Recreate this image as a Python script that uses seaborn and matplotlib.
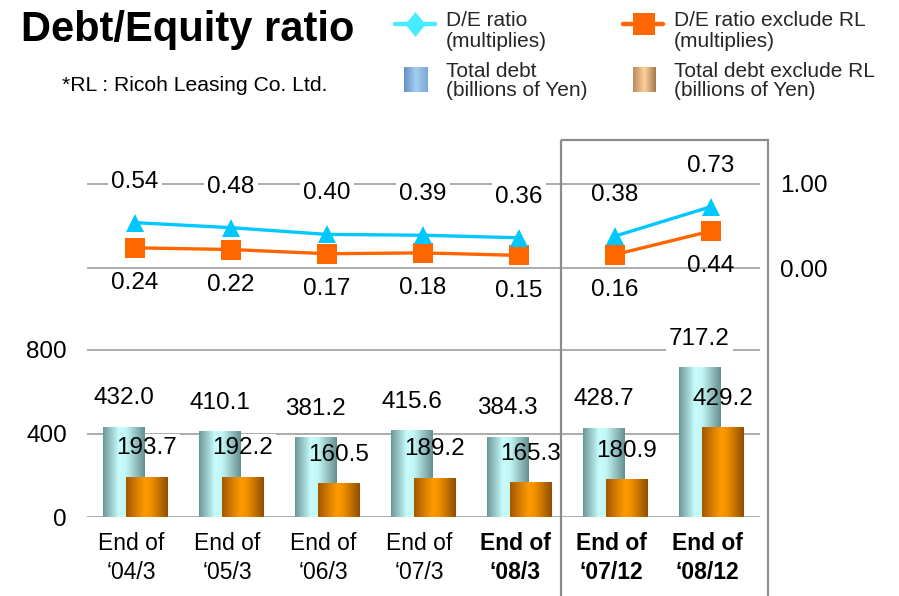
import numpy as np
import pandas as pd
import matplotlib
matplotlib.use("Agg")
import matplotlib.pyplot as plt
import seaborn as sns
from matplotlib.colors import LinearSegmentedColormap
from matplotlib.patches import Rectangle
from matplotlib.lines import Line2D

# ---------------- data ----------------
categories = ["End of\n\u201804/3", "End of\n\u201805/3", "End of\n\u201806/3",
              "End of\n\u201807/3", "End of\n\u201808/3", "End of\n\u201807/12",
              "End of\n\u201808/12"]
bold_labels = [False, False, False, False, True, True, True]
de_ratio = [0.54, 0.48, 0.40, 0.39, 0.36, 0.38, 0.73]
de_ratio_ex_rl = [0.24, 0.22, 0.17, 0.18, 0.15, 0.16, 0.44]
total_debt = [432.0, 410.1, 381.2, 415.6, 384.3, 428.7, 717.2]
total_debt_ex_rl = [193.7, 192.2, 160.5, 189.2, 165.3, 180.9, 429.2]
line_segment = [0, 0, 0, 0, 0, 1, 1]
bar_ticks = [0, 400, 800]
ratio_ticks = [0.0, 1.0]

# ---------------- style ----------------
sns.set_theme(style="white")
plt.rcParams["font.family"] = ["Liberation Sans", "DejaVu Sans"]

W, H = 899, 596
fig = plt.figure(figsize=(W / 100, H / 100), dpi=100)


def px_axes(l, t, r, b, **kw):
    return fig.add_axes([l / W, 1 - b / H, (r - l) / W, (b - t) / H], **kw)


ax_top = px_axes(87, 140, 760, 300)
ax_bot = px_axes(87, 330, 760, 517)

CYAN = "#00C8FF"
ORANGE = "#FF6600"
GRID = "#a6a6a6"
cmap_cyan = LinearSegmentedColormap.from_list(
    "cy", [(0, "#6a9696"), (0.38, "#c8fcfc"), (0.55, "#c4f6f6"), (1, "#668f8f")])
cmap_orange = LinearSegmentedColormap.from_list(
    "or", [(0, "#a05800"), (0.45, "#ff9a00"), (0.58, "#f69200"), (1, "#8e4e00")])
cmap_leg_blue = LinearSegmentedColormap.from_list(
    "lb", [(0, "#6690c4"), (0.5, "#a6cdf2"), (1, "#7aa6d6")])
cmap_leg_tan = LinearSegmentedColormap.from_list(
    "lt", [(0, "#b88a5c"), (0.5, "#ffd09a"), (1, "#a27a50")])

idx = np.arange(len(categories))
bar_df = pd.DataFrame({"idx": idx, "debt": total_debt, "debt_ex": total_debt_ex_rl})
line_df = pd.DataFrame({"idx": idx, "de": de_ratio, "de_ex": de_ratio_ex_rl,
                        "seg": line_segment})

OFF = 0.12
BW = 0.43

# ---------------- bars ----------------
sns.barplot(x=bar_df["idx"] - OFF, y=bar_df["debt"], native_scale=True, width=BW,
            errorbar=None, color="#aadddd", ax=ax_bot)
cyan_patches = list(ax_bot.patches)
sns.barplot(x=bar_df["idx"] + OFF, y=bar_df["debt_ex"], native_scale=True, width=BW,
            errorbar=None, color="#ff9900", ax=ax_bot)
orange_patches = [p for p in ax_bot.patches if p not in cyan_patches]

grad = np.linspace(0, 1, 256).reshape(1, -1)


def grad_fill(ax, patch, cmap, z):
    x0, y0 = patch.get_x(), patch.get_y()
    w, h = patch.get_width(), patch.get_height()
    im = ax.imshow(grad, cmap=cmap, extent=[x0, x0 + w, y0, y0 + h], aspect="auto",
                   origin="lower", zorder=z, interpolation="bilinear")
    im.set_clip_path(patch)
    patch.set_facecolor("none")
    patch.set_edgecolor("none")


for p in cyan_patches:
    grad_fill(ax_bot, p, cmap_cyan, 2.0)
for p in orange_patches:
    grad_fill(ax_bot, p, cmap_orange, 2.1)

LABEL_FS = 17.5


def masked_label(ax, x, y, s, dy, mask=True):
    if mask:
        ax.annotate(s, (x, y), xytext=(0, dy), textcoords="offset points",
                    ha="center", va="center", fontsize=LABEL_FS, color="white",
                    zorder=1.5,
                    bbox=dict(boxstyle="square,pad=0.12", fc="white", ec="none"))
    ax.annotate(s, (x, y), xytext=(0, dy), textcoords="offset points",
                ha="center", va="center", fontsize=LABEL_FS, color="black", zorder=6)


for i, v in zip(idx, total_debt):
    masked_label(ax_bot, i - OFF, v, f"{v:.1f}", 20.5)
for i, v in zip(idx, total_debt_ex_rl):
    masked_label(ax_bot, i + OFF, v, f"{v:.1f}", 20.5)

# ---------------- lines ----------------
sns.lineplot(data=line_df, x="idx", y="de_ex", units="seg", estimator=None,
             color=ORANGE, lw=2.4, marker="s", markersize=15, mew=0, ax=ax_top,
             zorder=3)
sns.lineplot(data=line_df, x="idx", y="de", units="seg", estimator=None,
             color=CYAN, lw=2.4, marker="^", markersize=12.5, mew=0, ax=ax_top,
             zorder=4)
label_mask = [True, True, True, True, True, False, False]
for i, v, m in zip(idx, de_ratio, label_mask):
    masked_label(ax_top, i, v, f"{v:.2f}", 29.5, m)
for i, v, m in zip(idx, de_ratio_ex_rl, label_mask):
    masked_label(ax_top, i, v, f"{v:.2f}", -25.5, m)

# ---------------- axes formatting ----------------
XL = (-0.5, 6.51)
for ax in (ax_top, ax_bot):
    ax.set_xlim(*XL)
    ax.set_axisbelow(True)
    for s in ax.spines.values():
        s.set_visible(False)
    ax.grid(False)
    ax.yaxis.grid(True, color=GRID, lw=1.3)
    ax.set_xlabel("")
    ax.set_ylabel("")
    ax.patch.set_alpha(0)

ax_bot.set_ylim(0, 800 * 187 / 167)
ax_bot.set_yticks(bar_ticks)
ax_bot.set_yticklabels([f"{t:d}" for t in bar_ticks])
ax_bot.tick_params(axis="y", length=0, pad=14.5, labelsize=LABEL_FS, colors="black")
ax_bot.set_xticks(idx - 0.04)
ax_bot.set_xticklabels(categories)
ax_bot.tick_params(axis="x", length=0, pad=11, labelsize=16.5, colors="black")
for lab, b in zip(ax_bot.get_xticklabels(), bold_labels):
    lab.set_linespacing(1.3)
    if b:
        lab.set_fontweight("bold")

ax_top.set_ylim(-32 / 84, 1 + 44 / 84)
ax_top.set_yticks(ratio_ticks)
ax_top.set_yticklabels([f"{t:.2f}" for t in ratio_ticks])
ax_top.yaxis.tick_right()
ax_top.tick_params(axis="y", length=0, pad=14.5, labelsize=LABEL_FS, colors="black")
ax_top.set_xticks([])

# ---------------- overlay: title, note, legend, box ----------------
ov = fig.add_axes([0, 0, 1, 1], zorder=10)
ov.axis("off")
ov.patch.set_alpha(0)

ov.text(21, 41, "Debt/Equity ratio", fontsize=30, fontweight="bold",
        ha="left", va="baseline", color="black")
ov.text(62, 91, "*RL : Ricoh Leasing Co. Ltd.", fontsize=15.2,
        ha="left", va="baseline", color="black")

ov.add_patch(Rectangle((561, 140), 207, 520, fill=False, ec="#8c8c8c", lw=1.6))

LEG_FS = 15
ov.add_line(Line2D([395, 435], [24, 24], color="#44EEFF", lw=3.2))
ov.add_line(Line2D([415], [24], color="#44EEFF", lw=0,
                   marker=[(0, 1.25), (1, 0), (0, -1.25), (-1, 0)],
                   markersize=18, mew=0))
ov.add_line(Line2D([623, 663], [24, 24], color=ORANGE, lw=3.2))
ov.add_line(Line2D([644], [24], color=ORANGE, lw=0, marker="s",
                   markersize=16.5, mew=0))
ov.imshow(grad, cmap=cmap_leg_blue, extent=[404, 428, 92, 67], aspect="auto")
ov.imshow(grad, cmap=cmap_leg_tan, extent=[633, 656, 92, 67], aspect="auto")
ov.set_xlim(0, W)
ov.set_ylim(H, 0)

ov.text(446, 31, "D/E ratio\n(multiplies)", fontsize=LEG_FS, ha="left",
        va="center", linespacing=1.1)
ov.text(674, 31, "D/E ratio exclude RL\n(multiplies)", fontsize=LEG_FS, ha="left",
        va="center", linespacing=1.1)
ov.text(446, 81, "Total debt\n(billions of Yen)", fontsize=LEG_FS, ha="left",
        va="center", linespacing=1.0)
ov.text(674, 81, "Total debt exclude RL\n(billions of Yen)", fontsize=LEG_FS,
        ha="left", va="center", linespacing=1.0)

fig.savefig("out.png", dpi=100)
